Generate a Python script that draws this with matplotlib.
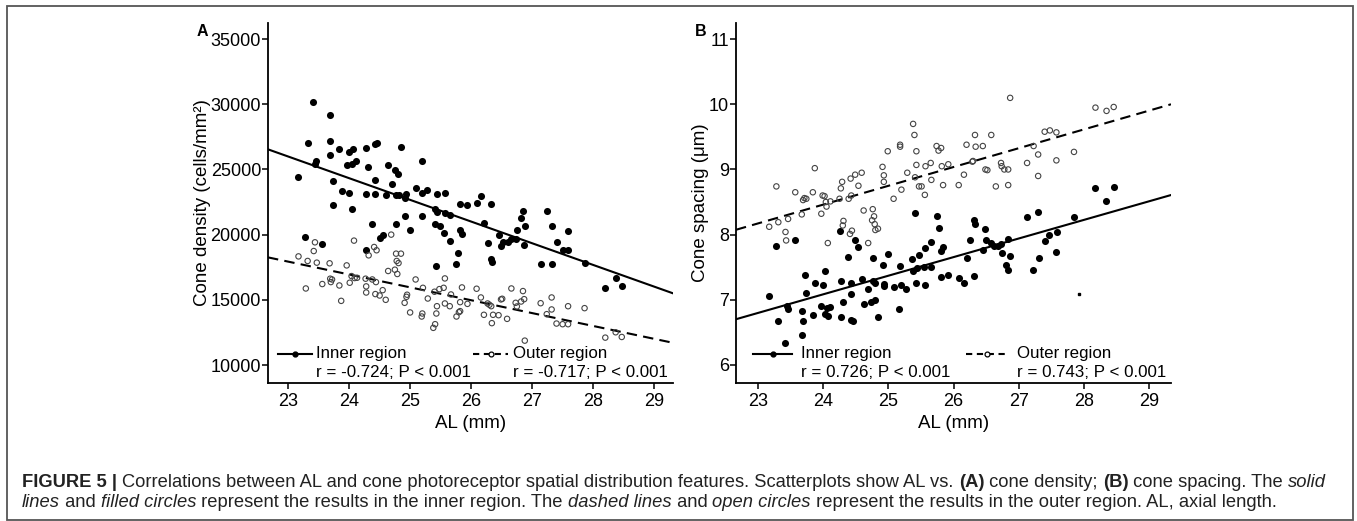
import numpy as np
import matplotlib.pyplot as plt
from matplotlib.patches import Rectangle

plt.rcParams['font.family'] = ['Liberation Sans', 'DejaVu Sans']

# ---- Panel A: cone density vs AL ----
al_inner_a = [23.41, 23.68, 23.32, 23.69, 23.46, 23.44, 23.68, 23.84, 24.00, 24.07,
              23.97, 24.05, 24.11, 24.28, 24.43, 24.46, 24.85, 24.31, 24.64, 24.75,
              24.80, 25.19, 23.17, 23.73, 24.43, 24.70, 23.88, 24.00, 24.28, 24.43,
              24.60, 24.77, 24.81, 24.94, 24.92, 25.09, 25.20, 25.28, 25.44, 25.57,
              23.73, 24.04, 25.40, 25.44, 25.58, 25.66, 24.91, 25.20, 25.82, 25.94,
              26.09, 26.16, 26.32, 26.21, 24.38, 24.77, 25.00, 25.40, 25.49, 25.56,
              25.82, 25.85, 24.50, 24.55, 25.66, 26.27, 23.28, 23.56, 24.27, 25.79,
              25.42, 25.75, 26.33, 26.34, 26.45, 26.49, 26.52, 26.60, 26.66, 26.73,
              26.75, 26.82, 26.85, 26.88, 26.86, 27.14, 27.24, 27.32, 27.32, 27.41,
              27.50, 27.59, 27.59, 27.86, 28.20, 28.37, 28.47]
density_inner = [30150, 29150, 27000, 27180, 25640, 25440, 26130, 26590, 26310, 26590,
                 25310, 25440, 25670, 26670, 26970, 27050, 26690, 25150, 25310, 24970,
                 24620, 25670, 24410, 24130, 24210, 23850, 23330, 23230, 23150, 23130,
                 23030, 23030, 23030, 23130, 22820, 23540, 23180, 23440, 23080, 23230,
                 22280, 22000, 21970, 21720, 21670, 21510, 21410, 21460, 22310, 22260,
                 22390, 23000, 22330, 20900, 20820, 20820, 20390, 20820, 20640, 20100,
                 20390, 20030, 19770, 20000, 19490, 19360, 19820, 19310, 18800, 18590,
                 17570, 17720, 18130, 17870, 20000, 19100, 19410, 19460, 19690, 19690,
                 20330, 21280, 21800, 20640, 19230, 17740, 21820, 20670, 17720, 19410,
                 18850, 18820, 20310, 17850, 15900, 16690, 16030]

al_outer_a = [23.17, 23.32, 23.42, 23.44, 23.47, 23.29, 23.56, 23.68, 23.69, 23.70,
              23.72, 23.84, 23.87, 23.96, 24.08, 24.01, 24.04, 24.09, 24.13, 24.27,
              24.28, 24.28, 24.32, 24.38, 24.41, 24.45, 24.44, 24.43, 24.50, 24.55,
              24.60, 24.64, 24.69, 24.75, 24.77, 24.85, 24.78, 24.81, 24.79, 24.91,
              24.94, 24.95, 25.00, 25.09, 25.19, 25.20, 25.21, 25.29, 25.38, 25.41,
              25.40, 25.44, 25.43, 25.48, 25.55, 25.57, 25.57, 25.65, 25.67, 25.76,
              25.80, 25.82, 25.82, 25.85, 25.94, 26.09, 26.16, 26.21, 26.27, 26.30,
              26.33, 26.34, 26.36, 26.45, 26.49, 26.51, 26.59, 26.66, 26.73, 26.75,
              26.82, 26.85, 26.87, 26.88, 27.14, 27.24, 27.32, 27.32, 27.40, 27.50,
              27.59, 27.59, 27.86, 28.20, 28.37, 28.47]
density_outer = [18330, 17980, 18740, 19410, 17850, 15870, 16210, 17800, 16620, 16360,
                 16560, 16100, 14920, 17640, 19540, 16310, 16820, 16670, 16690, 16620,
                 16030, 15560, 18410, 16560, 19050, 18800, 16360, 15440, 15330, 15740,
                 15000, 17210, 20000, 17310, 18540, 18540, 17980, 17820, 16980, 14770,
                 15230, 15390, 14030, 16560, 13720, 13950, 15920, 15100, 12850, 13130,
                 15620, 14510, 13950, 15820, 15920, 16640, 14720, 14510, 15410, 13720,
                 14050, 14130, 14820, 15950, 14690, 15850, 15180, 13850, 14720, 14620,
                 14510, 13210, 13850, 13820, 15030, 15080, 13540, 15870, 14770, 14490,
                 14870, 15670, 15050, 11870, 14740, 13900, 15180, 14260, 13180, 13130,
                 14510, 13130, 14360, 12100, 12510, 12150]

# ---- Panel B: cone spacing vs AL ----
al_inner_b = [23.16, 23.28, 23.31, 23.41, 23.44, 23.46, 23.56, 23.68, 23.69, 23.68,
              23.72, 23.73, 23.84, 23.87, 23.96, 24.00, 24.02, 24.03, 24.06, 24.07,
              24.11, 24.25, 24.27, 24.27, 24.31, 24.38, 24.42, 24.43, 24.43, 24.45,
              24.48, 24.54, 24.59, 24.63, 24.69, 24.74, 24.76, 24.76, 24.79, 24.79,
              24.84, 24.91, 24.93, 24.94, 24.99, 25.08, 25.17, 25.18, 25.19, 25.27,
              25.37, 25.38, 25.41, 25.43, 25.44, 25.47, 25.55, 25.56, 25.56, 25.65,
              25.65, 25.74, 25.78, 25.81, 25.81, 25.84, 25.92, 26.08, 26.16, 26.20,
              26.26, 26.31, 26.32, 26.33, 26.45, 26.48, 26.50, 26.57, 26.62, 26.68,
              26.73, 26.74, 26.81, 26.84, 26.84, 26.87, 27.13, 27.22, 27.30, 27.31,
              27.40, 27.47, 27.58, 27.59, 27.85, 28.18, 28.34, 28.46]
spacing_inner = [7.05, 7.82, 6.68, 6.33, 6.91, 6.86, 7.92, 6.83, 6.67, 6.46,
                 7.38, 7.10, 6.76, 7.26, 6.90, 7.23, 6.78, 7.44, 6.87, 6.75,
                 6.88, 8.06, 7.28, 6.73, 6.96, 7.66, 7.26, 6.69, 7.08, 6.68,
                 7.91, 7.81, 7.31, 6.93, 7.16, 6.96, 7.64, 7.28, 6.99, 7.25,
                 6.73, 7.53, 7.24, 7.21, 7.70, 7.20, 6.86, 7.51, 7.22, 7.17,
                 7.63, 7.44, 8.33, 7.25, 7.48, 7.68, 7.50, 7.22, 7.79, 7.50,
                 7.89, 8.28, 8.10, 7.35, 7.75, 7.81, 7.38, 7.34, 7.25, 7.64,
                 7.92, 7.36, 8.22, 8.17, 7.76, 8.08, 7.91, 7.87, 7.83, 7.83,
                 7.86, 7.72, 7.53, 7.46, 7.93, 7.67, 8.27, 7.46, 8.34, 7.64,
                 7.90, 7.99, 7.73, 8.04, 8.27, 8.71, 8.52, 8.73]

al_outer_b = [23.17, 23.28, 23.31, 23.42, 23.43, 23.46, 23.57, 23.67, 23.69, 23.71,
              23.74, 23.84, 23.87, 23.97, 23.99, 24.02, 24.04, 24.05, 24.07, 24.11,
              24.25, 24.27, 24.29, 24.31, 24.30, 24.39, 24.41, 24.43, 24.44, 24.49,
              24.42, 24.54, 24.59, 24.62, 24.69, 24.76, 24.75, 24.78, 24.79, 24.80,
              24.84, 24.91, 24.93, 24.93, 24.99, 25.08, 25.18, 25.18, 25.20, 25.29,
              25.38, 25.40, 25.41, 25.43, 25.43, 25.47, 25.51, 25.56, 25.57, 25.65,
              25.66, 25.74, 25.77, 25.81, 25.82, 25.84, 25.92, 26.08, 26.16, 26.20,
              26.29, 26.30, 26.33, 26.34, 26.45, 26.49, 26.52, 26.58, 26.65, 26.73,
              26.74, 26.78, 26.84, 26.84, 26.87, 27.13, 27.23, 27.30, 27.30, 27.40,
              27.48, 27.58, 27.58, 27.85, 28.18, 28.35, 28.46]
spacing_outer = [8.12, 8.74, 8.19, 8.04, 7.91, 8.24, 8.65, 8.31, 8.53, 8.56,
                 8.55, 8.65, 9.02, 8.32, 8.60, 8.59, 8.50, 8.43, 7.87, 8.51,
                 8.55, 8.71, 8.81, 8.21, 8.14, 8.55, 8.01, 8.60, 8.06, 8.92,
                 8.86, 8.75, 8.95, 8.37, 7.87, 8.39, 8.22, 8.28, 8.16, 8.07,
                 8.09, 9.04, 8.91, 8.81, 9.28, 8.55, 9.38, 9.35, 8.69, 8.95,
                 9.70, 9.53, 8.88, 9.28, 9.07, 8.74, 8.74, 8.61, 9.05, 9.10,
                 8.84, 9.36, 9.29, 9.33, 9.05, 8.76, 9.08, 8.76, 8.92, 9.38,
                 9.12, 9.13, 9.53, 9.35, 9.36, 9.00, 8.99, 9.53, 8.74, 9.10,
                 9.05, 9.00, 9.00, 8.76, 10.10, 9.10, 9.36, 9.23, 8.90, 9.58,
                 9.60, 9.57, 9.14, 9.27, 9.95, 9.90, 9.96]

# small speck in panel B
stray_b = ([27.92], [7.08])

x_ticks = [23, 24, 25, 26, 27, 28, 29]
y_ticks_a = [10000, 15000, 20000, 25000, 30000, 35000]
y_ticks_b = [6, 7, 8, 9, 10, 11]
legend_names = ['Inner region', 'Outer region']
r_text_a = ['r = -0.724; P < 0.001', 'r = -0.717; P < 0.001']
r_text_b = ['r = 0.726; P < 0.001', 'r = 0.743; P < 0.001']

W, H = 1357, 521
fig = plt.figure(figsize=(W / 100, H / 100), dpi=100)

# outer frame of the figure panel
fig.patches.append(Rectangle((7 / W, 1 / H), 1346 / W, 514 / H, transform=fig.transFigure,
                             fill=False, edgecolor='#555555', linewidth=1.3))

ax_a = fig.add_axes([268 / W, 1 - 383 / H, 405 / W, 360 / H])
ax_b = fig.add_axes([736 / W, 1 - 383 / H, 435 / W, 360 / H])


def draw_panel(ax, xi, yi, xo, yo, xlim, ylim, yticks, ylabel, ylab_x, r_text, leg):
    ax.scatter(xi, yi, s=26, color='black', linewidths=0, zorder=3)
    ax.scatter(xo, yo, s=15, facecolors='none', edgecolors='#444444', linewidths=0.8, zorder=3)

    # least squares fit lines
    xs = np.array(xlim)
    k, b = np.polyfit(xi, yi, 1)
    ax.plot(xs, k * xs + b, color='black', lw=1.5, zorder=2)
    k, b = np.polyfit(xo, yo, 1)
    ax.plot(xs, k * xs + b, color='black', lw=1.5, ls=(0, (5, 3)), zorder=2)

    ax.set_xlim(xlim)
    ax.set_ylim(ylim)
    ax.set_xticks(x_ticks)
    ax.set_yticks(yticks)
    for s in ['top', 'right']:
        ax.spines[s].set_visible(False)
    for s in ['left', 'bottom']:
        ax.spines[s].set_linewidth(1.3)
    ax.tick_params(axis='both', direction='out', length=4, width=1.1, labelsize=13)
    ax.tick_params(axis='y', pad=1)
    ax.tick_params(axis='x', pad=3)
    ax.set_xlabel('AL (mm)', fontsize=13.5, va='top')
    ax.xaxis.set_label_coords(0.5, -0.088)
    ax.set_ylabel(ylabel, fontsize=13.5)
    ax.yaxis.set_label_coords(ylab_x, 0.5)

    # legend drawn by hand: line + marker + two text rows
    (x0, x1, tx), (ox0, ox1, otx) = leg
    ly, ry = 0.081, 0.028
    fs = 12.2
    ax.plot([x0, x1], [ly, ly], color='black', lw=1.5, transform=ax.transAxes, clip_on=False)
    ax.plot([(x0 + x1) / 2], [ly], 'o', ms=3.5, color='black', transform=ax.transAxes, clip_on=False)
    ax.plot([ox0, ox1], [ly, ly], color='black', lw=1.5, ls=(0, (3, 2.2)),
            transform=ax.transAxes, clip_on=False)
    ax.plot([(ox0 + ox1) / 2], [ly], 'o', ms=3.5, mfc='white', mec='black', mew=0.9,
            transform=ax.transAxes, clip_on=False, zorder=4)
    ax.text(tx, ly, legend_names[0], fontsize=fs, va='center', ha='left', transform=ax.transAxes)
    ax.text(otx, ly, legend_names[1], fontsize=fs, va='center', ha='left', transform=ax.transAxes)
    ax.text(tx, ry, r_text[0], fontsize=fs, va='center', ha='left', transform=ax.transAxes)
    ax.text(otx, ry, r_text[1], fontsize=fs, va='center', ha='left', transform=ax.transAxes)


draw_panel(ax_a, al_inner_a, density_inner, al_outer_a, density_outer,
           (22.67, 29.31), (8620, 36230), y_ticks_a, 'Cone density (cells/mm²)', -0.141,
           r_text_a, ((0.025, 0.109, 0.119), (0.506, 0.593, 0.605)))
draw_panel(ax_b, al_inner_b, spacing_inner, al_outer_b, spacing_outer,
           (22.66, 29.34), (5.72, 11.25), y_ticks_b, 'Cone spacing (μm)', -0.062,
           r_text_b, ((0.039, 0.129, 0.149), (0.529, 0.625, 0.646)))
ax_b.plot(stray_b[0], stray_b[1], 's', ms=1.5, color='black')

fig.text(197 / W, 1 - 36 / H, 'A', fontsize=11.5, fontweight='bold', ha='left', va='baseline')
fig.text(695 / W, 1 - 36 / H, 'B', fontsize=11.5, fontweight='bold', ha='left', va='baseline')

# caption, written piece by piece so bold / italic parts line up
caption = [
    [('FIGURE 5 | ', 'bold', 'normal'),
     ('Correlations between AL and cone photoreceptor spatial distribution features. '
      'Scatterplots show AL vs. ', 'normal', 'normal'),
     ('(A)', 'bold', 'normal'), (' cone density; ', 'normal', 'normal'),
     ('(B)', 'bold', 'normal'), (' cone spacing. The ', 'normal', 'normal'),
     ('solid', 'normal', 'italic')],
    [('lines', 'normal', 'italic'), (' and ', 'normal', 'normal'),
     ('filled circles', 'normal', 'italic'),
     (' represent the results in the inner region. The ', 'normal', 'normal'),
     ('dashed lines', 'normal', 'italic'), (' and ', 'normal', 'normal'),
     ('open circles', 'normal', 'italic'),
     (' represent the results in the outer region. AL, axial length.', 'normal', 'normal')],
]
renderer = fig.canvas.get_renderer()
for row, base in zip(caption, [1 - 487 / H, 1 - 507 / H]):
    x = 22 / W
    for txt, weight, style in row:
        t = fig.text(x, base, txt, fontsize=13.2, fontweight=weight, fontstyle=style,
                     color='#222222', ha='left', va='baseline')
        bb = t.get_window_extent(renderer)
        x = bb.x1 / W

fig.savefig('out.png', dpi=100)
